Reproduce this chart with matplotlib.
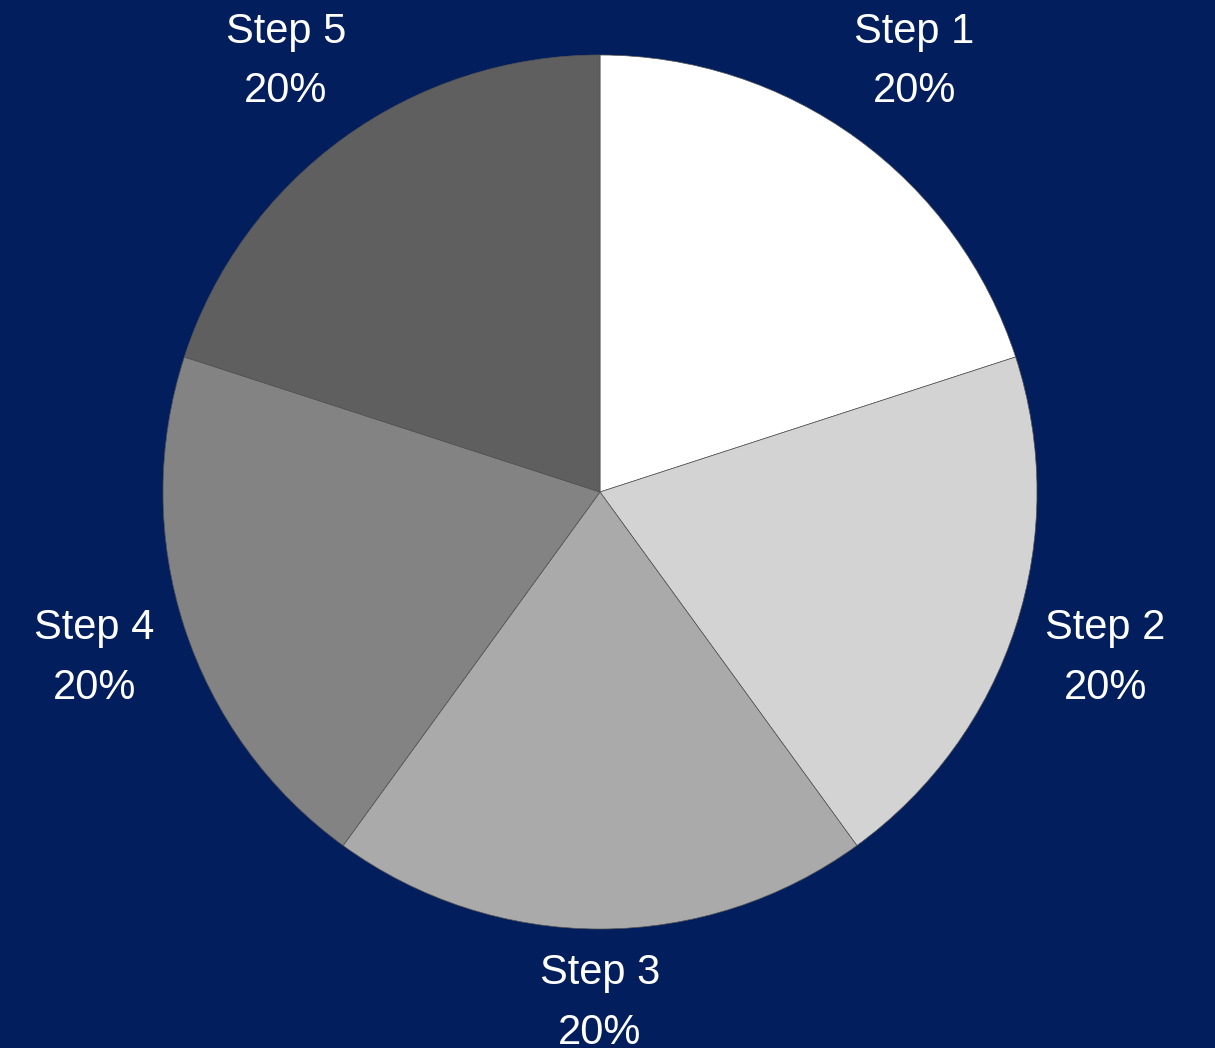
import numpy as np
import matplotlib
matplotlib.use('Agg')
import matplotlib.pyplot as plt

# dados do gráfico
etapas = ['Step 1', 'Step 2', 'Step 3', 'Step 4', 'Step 5']
valores = [20, 20, 20, 20, 20]
cores = ['#ffffff', '#d3d3d3', '#aaaaaa', '#838383', '#5f5f5f']
fundo = '#031e5c'

plt.rcParams['font.family'] = ['Liberation Sans', 'DejaVu Sans']

fig = plt.figure(figsize=(12.15, 10.48), dpi=100, facecolor=fundo)
ax = fig.add_axes([0, 0, 1, 1])
ax.set_facecolor(fundo)

raio = 1.0
wedges, _ = ax.pie(valores, colors=cores, startangle=90, counterclock=False,
                   radius=raio, wedgeprops=dict(linewidth=0.5, edgecolor='#555555'))

# posiciona o centro da pizza como na imagem (depois do pie, que mexe nos limites)
px = 437.0
ax.set_xlim(-600 / px, 615 / px)
ax.set_ylim(-556 / px, 492 / px)
ax.set_aspect('equal')
ax.axis('off')

renderer = fig.canvas.get_renderer()
total = sum(valores)
for w, nome, v in zip(wedges, etapas, valores):
    ang = np.deg2rad((w.theta1 + w.theta2) / 2)
    c, s = np.cos(ang), np.sin(ang)
    t = ax.text(0, 0, f'{nome}\n{v / total * 100:.0f}%', ha='center', va='center',
                multialignment='center', color='white', fontsize=30,
                linespacing=1.64)
    bb = t.get_window_extent(renderer)
    # a caixa do rótulo encosta num círculo um pouco maior que a pizza
    d = 1.05 * raio + (bb.width / 2 * abs(c) + bb.height / 2 * abs(s)) / px
    t.set_position((d * c, d * s - 2 / px))

fig.savefig('out.png', dpi=100, facecolor=fundo)
